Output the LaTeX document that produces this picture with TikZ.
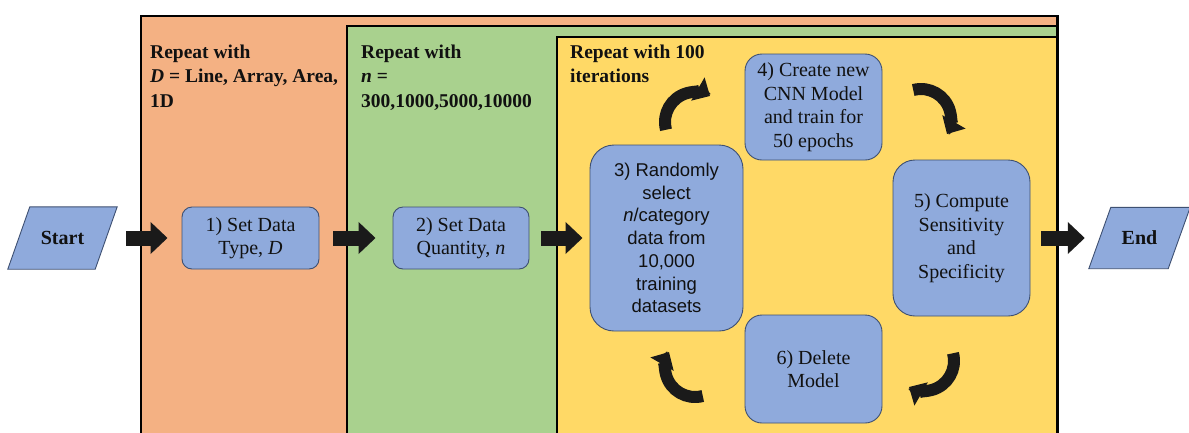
\documentclass[tikz,border=0pt]{standalone}
\usepackage{fontspec}
\setmainfont{Liberation Serif}
\newfontfamily\arialfont{Liberation Sans}
\usetikzlibrary{arrows.meta}
\pgfdeclarelayer{bg}
\pgfsetlayers{bg,main}
\definecolor{cOrange}{HTML}{F4B183}
\definecolor{cGreen}{HTML}{A9D18E}
\definecolor{cYellow}{HTML}{FFD966}
\definecolor{cBlue}{HTML}{8FAADC}
\definecolor{cEdge}{HTML}{3E5072}
\definecolor{cArrow}{HTML}{1A1A1A}
\definecolor{cText}{HTML}{111111}
\begin{document}
\begin{tikzpicture}[x=1pt,y=-1pt,
  frame/.style={draw=black, line width=2.6pt},
  framelabel/.style={anchor=north west, align=left, inner sep=0pt, font=\bfseries\fontsize{19.5}{24.5}\selectfont, text=cText},
  box/.style={draw=cEdge, line width=0.9pt, fill=cBlue, align=center, inner sep=0pt, text=cText, font=\rmfamily\fontsize{20}{23.5}\selectfont},
  io/.style={inner sep=0pt, font=\bfseries\fontsize{20}{24}\selectfont, text=cText},
  ioshape/.style={draw=cEdge, line width=0.9pt, fill=cBlue},
  blockarrow/.style={draw=cArrow, line width=15pt, -{Triangle[width=31pt,length=17pt]}},
  curvearrow/.style={draw=cArrow, line width=12pt, -{Triangle[width=26pt,length=14pt]}}
]
\useasboundingbox (0,0) rectangle (1189,432);
\clip (0,0) rectangle (1189,432);
% nested loop frames
\draw[frame, fill=cOrange] (141,16) rectangle (1057.5,470);
\draw[frame, fill=cGreen] (347,26) rectangle (1057.5,470);
\draw[frame, fill=cYellow] (557,37) rectangle (1057.5,470);
% frame labels
\node[framelabel] (lblD) at (150,44.5) {Repeat with\\\textit{D} = Line, Array, Area,\\1D};
\node[framelabel] (lbln) at (361,44.5) {Repeat with\\\textit{n} =\\300,1000,5000,10000};
\node[framelabel] (lbli) at (570,44.5) {Repeat with 100\\iterations};
% start / end
\node[io, minimum width=109pt, minimum height=62pt] (start) at (62.5,238) {Start};
\node[io, minimum width=101pt, minimum height=61pt] (end) at (1139.5,238) {End};
\begin{pgfonlayer}{bg}
\path[ioshape] ([xshift=22pt]start.north west) -- (start.north east) -- ([xshift=-22pt]start.south east) -- (start.south west) -- cycle;
\path[ioshape] ([xshift=22pt]end.north west) -- (end.north east) -- ([xshift=-22pt]end.south east) -- (end.south west) -- cycle;
\end{pgfonlayer}
% process boxes
\node[box, minimum width=137pt, minimum height=62pt, rounded corners=10pt] (b1) at (250.5,238) {1) Set Data\\Type, \textit{D}};
\node[box, minimum width=136pt, minimum height=62pt, rounded corners=10pt] (b2) at (461,238) {2) Set Data\\Quantity, \textit{n}};
\node[box, font=\arialfont\fontsize{18.5}{22.7}\selectfont, minimum width=153pt, minimum height=186pt, rounded corners=24pt] (b3) at (666.5,238) {3) Randomly\\select\\\textit{n}/category\\data from\\10,000\\training\\datasets};
\node[box, minimum width=137pt, minimum height=106pt, rounded corners=17pt] (b4) at (813.5,107) {4) Create new\\CNN Model\\and train for\\50 epochs};
\node[box, minimum width=137pt, minimum height=156pt, rounded corners=22pt] (b5) at (961.5,238) {5) Compute\\Sensitivity\\and\\Specificity};
\node[box, minimum width=137pt, minimum height=108pt, rounded corners=17pt] (b6) at (813.5,369) {6) Delete\\Model};
% block arrows
\draw[blockarrow, shorten <=9pt, shorten >=14pt] (start.east) -- (b1.west);
\draw[blockarrow, shorten <=14pt, shorten >=17pt] (b1.east) -- (b2.west);
\draw[blockarrow, shorten <=12pt, shorten >=7pt] (b2.east) -- (b3.west);
\draw[blockarrow, shorten <=11pt, shorten >=4pt] (b5.east) -- (end.west);
% cycle arrows
\coordinate (ctl) at (695,122);
\coordinate (ctr) at (921,119);
\coordinate (cbr) at (924,361);
\coordinate (cbl) at (695,367);
\draw[curvearrow] ([shift={(165:30)}]ctl) arc[start angle=165, end angle=300, radius=30];
\draw[curvearrow] ([shift={(255:30)}]ctr) arc[start angle=255, end angle=390, radius=30];
\draw[curvearrow] ([shift={(345:30)}]cbr) arc[start angle=345, end angle=480, radius=30];
\draw[curvearrow] ([shift={(75:30)}]cbl) arc[start angle=75, end angle=210, radius=30];
\end{tikzpicture}
\end{document}
